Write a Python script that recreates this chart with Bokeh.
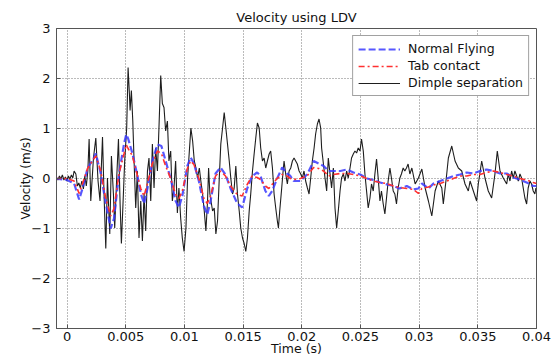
import numpy as np
from bokeh.plotting import figure
from bokeh.models import Legend, LegendItem, FixedTicker, Range1d
from bokeh.embed import file_html
from bokeh.resources import INLINE

# ---------------- data (time in ms, velocity in m/s) ----------------
smooth_time_ms = [-1.0, 0.0, 0.6, 1.03, 1.32, 1.74, 2.3, 2.45, 2.87, 3.3,
                  3.72, 4.0, 4.43, 4.86, 5.04, 5.2, 5.57, 6.0, 6.28, 6.56,
                  6.85, 7.27, 7.7, 8.04, 8.4, 8.83, 9.25, 9.53, 9.82, 10.25,
                  10.53, 10.81, 11.23, 11.66, 11.95, 12.23, 12.65, 13.08, 13.5, 13.93,
                  14.5, 14.92, 15.35, 15.77, 16.2, 16.48, 16.9, 17.19, 17.47, 17.9,
                  18.33, 18.75, 19.03, 19.31, 19.88, 20.45, 21.01, 21.44, 21.86, 22.29,
                  22.71, 23.28, 23.85, 24.41, 24.98, 25.55, 26.11, 26.68, 27.25, 27.81,
                  28.32, 28.95, 29.52, 29.94, 30.23, 30.79, 31.22, 31.79, 32.36, 32.92,
                  33.49, 34.06, 34.62, 35.19, 35.76, 36.32, 36.89, 37.46, 38.02, 38.59,
                  39.16, 39.72, 40.0]

normal_flying = [0.0, -0.03, -0.1, -0.42, -0.2, 0.2, 0.42, 0.5, 0.1, -0.5,
                 -1.0, -0.8, 0.1, 0.7, 0.88, 0.8, 0.5, 0.05, -0.3, -0.5,
                 -0.2, 0.35, 0.68, 0.65, 0.35, 0.0, -0.45, -0.58, -0.35, 0.25,
                 0.42, 0.3, -0.05, -0.55, -0.72, -0.45, 0.1, 0.22, 0.08, -0.2,
                 -0.5, -0.58, -0.2, 0.05, 0.12, 0.05, -0.25, -0.35, -0.25, 0.0,
                 0.22, 0.1, 0.05, -0.05, -0.05, 0.08, 0.35, 0.3, 0.25, 0.15,
                 0.15, 0.15, 0.18, 0.12, 0.08, 0.0, -0.03, -0.08, -0.12, -0.15,
                 -0.2, -0.15, -0.22, -0.2, -0.1, -0.2, -0.1, -0.05, 0.0, 0.05,
                 0.08, 0.12, 0.1, 0.15, 0.18, 0.15, 0.1, 0.1, 0.02, -0.02,
                 -0.08, -0.15, -0.15]

tab_contact = [0.0, 0.0, -0.05, -0.3, -0.1, 0.2, 0.4, 0.45, 0.15, -0.4,
               -0.75, -0.6, 0.1, 0.5, 0.68, 0.6, 0.45, 0.05, -0.2, -0.35,
               -0.1, 0.3, 0.55, 0.5, 0.25, 0.0, -0.32, -0.4, -0.25, 0.2,
               0.35, 0.28, 0.0, -0.4, -0.5, -0.35, 0.05, 0.15, 0.05, -0.15,
               -0.32, -0.35, -0.12, 0.05, 0.02, -0.02, -0.15, -0.2, -0.12, 0.0,
               0.08, 0.05, 0.0, -0.02, 0.0, 0.05, 0.22, 0.2, 0.15, 0.05,
               0.08, 0.1, 0.1, 0.08, 0.05, 0.0, -0.05, -0.08, -0.1, -0.15,
               -0.18, -0.2, -0.22, -0.3, -0.2, -0.17, -0.13, -0.1, -0.05, 0.0,
               0.05, 0.05, 0.08, 0.08, 0.12, 0.15, 0.12, 0.08, 0.05, 0.0,
               -0.03, -0.08, -0.1]

dimple_time_ms = [-0.90, -0.78, -0.65, -0.53, -0.40, -0.27, -0.14, -0.02, 0.11, 0.24,
                  0.37, 0.49, 0.60, 0.75, 0.88, 1.00, 1.13, 1.26, 1.39, 1.51,
                  1.64, 1.77, 1.88, 2.02, 2.25, 2.45, 2.64, 2.81, 3.02, 3.15,
                  3.30, 3.44, 3.64, 3.78, 3.95, 4.06, 4.23, 4.38, 4.52, 4.63,
                  4.80, 4.91, 5.08, 5.20, 5.31, 5.37, 5.48, 5.60, 5.71, 5.85,
                  5.99, 6.13, 6.28, 6.42, 6.56, 6.70, 6.85, 6.98, 7.13, 7.27,
                  7.41, 7.55, 7.70, 7.83, 7.98, 8.12, 8.26, 8.40, 8.55, 8.68,
                  8.83, 8.97, 9.11, 9.25, 9.40, 9.53, 9.68, 9.82, 9.97, 10.13,
                  10.27, 10.42, 10.55, 10.70, 10.84, 10.98, 11.12, 11.27, 11.40, 11.55,
                  11.69, 11.83, 11.97, 12.06, 12.17, 12.40, 12.54, 12.68, 12.82, 12.97,
                  13.10, 13.25, 13.39, 13.53, 13.67, 13.82, 13.95, 14.10, 14.24, 14.38,
                  14.52, 14.67, 14.80, 14.95, 15.09, 15.23, 15.37, 15.52, 15.65, 15.80,
                  15.94, 16.08, 16.22, 16.37, 16.50, 16.65, 16.79, 16.93, 17.07, 17.22,
                  17.35, 17.50, 17.64, 17.78, 17.92, 18.01, 18.12, 18.29, 18.41, 18.49,
                  18.63, 18.77, 18.92, 19.06, 19.20, 19.34, 19.48, 19.62, 19.77, 19.91,
                  20.05, 20.19, 20.33, 20.48, 20.62, 20.76, 20.90, 21.05, 21.18, 21.33,
                  21.47, 21.61, 21.69, 21.98, 22.12, 22.26, 22.54, 22.69, 22.83, 22.97,
                  23.11, 23.26, 23.39, 23.54, 23.68, 23.82, 23.96, 24.11, 24.24, 24.39,
                  24.53, 24.67, 24.81, 24.96, 25.09, 25.24, 25.38, 25.52, 25.66, 25.81,
                  25.94, 26.09, 26.23, 26.37, 26.51, 26.66, 26.79, 26.94, 27.08, 27.22,
                  27.36, 27.51, 27.64, 27.79, 27.93, 28.07, 28.21, 28.36, 28.49, 28.64,
                  28.78, 28.92, 29.06, 29.21, 29.38, 29.66, 29.94, 30.23, 30.51, 30.79,
                  31.08, 31.36, 31.64, 31.93, 32.06, 32.35, 32.49, 32.78, 33.06, 33.34,
                  33.63, 33.91, 34.19, 34.34, 34.62, 34.90, 35.04, 35.33, 35.61, 35.89,
                  36.18, 36.46, 36.66, 36.89, 37.17, 37.46, 37.59, 37.74, 37.88, 38.02,
                  38.16, 38.31, 38.45, 38.59, 38.73, 38.87, 39.01, 39.16, 39.29, 39.44,
                  39.58, 39.72, 39.86, 39.95]

dimple_separation = [0.01, -0.03, 0.05, -0.01, 0.07, -0.03, 0.03, -0.05, 0.05, -0.01,
                     0.07, 0.01, 0.15, 0.09, -0.15, -0.09, -0.19, -0.05, -0.21, 0.05,
                     -0.15, 0.15, 0.79, -0.45, 0.41, 0.81, -0.05, -0.45, 0.83, -0.31,
                     -1.40, 0.01, -1.11, 0.45, -0.31, -0.99, 0.01, 0.79, -0.51, -1.30,
                     -0.31, 0.35, 1.01, 2.22, 1.70, 1.36, 1.76, 1.15, 0.35, -0.59,
                     0.15, -1.19, -0.45, -1.25, -0.31, -1.05, 0.15, 0.41, -0.45, 0.69,
                     -0.19, 0.61, 0.15, 1.01, 2.06, 1.50, 1.42, 0.95, 1.15, 0.35,
                     0.55, -0.45, -0.19, 0.35, -0.69, -0.19, -0.79, -1.19, -1.46, -0.99,
                     0.01, 0.55, 1.01, 0.75, 0.35, 0.21, 0.01, 0.21, -0.05, -0.31,
                     -0.65, -1.05, -0.45, 0.21, -0.31, -0.65, -0.59, -1.11, -0.85, 0.01,
                     0.69, 1.01, 1.32, 1.01, 0.69, 0.35, 0.01, -0.31, -0.19, 0.25,
                     -0.31, -0.65, -0.99, -1.19, -1.30, -1.46, -1.19, -0.65, -0.31, 0.15,
                     0.49, 0.81, 1.11, 1.01, 0.61, 0.35, 0.41, 0.21, 0.35, 0.49,
                     0.55, 0.21, -0.31, -0.59, -0.85, -0.99, -0.65, -0.19, 0.15, 0.35,
                     0.09, -0.11, 0.15, 0.21, 0.35, 0.41, 0.35, 0.29, 0.15, 0.09,
                     0.01, 0.15, -0.05, -0.19, -0.31, 0.01, 0.35, 0.61, 0.89, 1.09,
                     1.19, 1.01, 0.61, 0.01, -0.25, 0.41, -0.19, 0.21, -0.59, -0.99,
                     -0.65, -0.25, 0.01, 0.09, -0.05, 0.15, 0.01, 0.21, 0.41, 0.49,
                     0.55, 0.51, 0.61, 0.55, 0.79, 0.55, 0.09, -0.25, -0.59, -0.39,
                     -0.11, -0.25, 0.09, 0.39, 0.01, -0.45, -0.25, -0.51, -0.71, -0.39,
                     -0.05, 0.21, 0.01, -0.25, -0.31, -0.51, -0.19, 0.01, 0.09, 0.21,
                     0.15, 0.21, 0.29, 0.09, 0.21, -0.11, 0.01, 0.19, -0.19, -0.45,
                     -0.75, -0.25, -0.05, -0.19, -0.51, 0.09, 0.41, 0.65, 0.35, 0.21,
                     0.15, -0.11, -0.25, -0.05, -0.25, -0.45, -0.11, 0.35, 0.01, -0.25,
                     -0.39, 0.09, 0.55, 0.15, 0.01, -0.11, 0.09, -0.05, 0.15, 0.01,
                     0.15, 0.05, -0.05, 0.09, 0.01, -0.19, -0.39, -0.51, -0.19, -0.05,
                     -0.11, -0.25, -0.31, -0.19]

x_ticks = [0, 0.005, 0.01, 0.015, 0.02, 0.025, 0.03, 0.035, 0.04]
x_tick_labels = ["0", "0.005", "0.01", "0.015", "0.02", "0.025", "0.03", "0.035", "0.04"]
y_ticks = [-3, -2, -1, 0, 1, 2, 3]

# ---------------- figure ----------------
FONT = "DejaVu Sans"
p = figure(width=555, height=358, output_backend="svg", toolbar_location=None,
           x_range=Range1d(-0.0009, 0.04), y_range=Range1d(-3, 3),
           min_border_left=56, min_border_right=19, min_border_top=28,
           min_border_bottom=30)
p.background_fill_color = "white"
p.border_fill_color = "white"
p.outline_line_color = "#555555"
p.outline_line_width = 1

p.title.text = "Velocity using LDV"
p.title.align = "center"
p.title.text_font = FONT
p.title.text_font_size = "13px"
p.title.text_font_style = "normal"
p.title.text_color = "#111111"
p.title.standoff = 8

t_s = np.array(smooth_time_ms) / 1000.0
td_s = np.array(dimple_time_ms) / 1000.0

r_dimple = p.line(td_s, dimple_separation, line_color="#1e1e1e", line_width=1.1)
r_normal = p.line(t_s, normal_flying, line_color="#3a3aff", line_width=2.2,
                  line_dash="7 3", line_alpha=0.85)
r_tab = p.line(t_s, tab_contact, line_color="#ff3030", line_width=1.6,
               line_dash="6 3 2 3")

# axes
p.xaxis.ticker = FixedTicker(ticks=x_ticks)
p.xaxis.major_label_overrides = {t: l for t, l in zip(x_ticks, x_tick_labels)}
p.yaxis.ticker = FixedTicker(ticks=y_ticks)
p.xaxis.axis_label = "Time (s)"
p.yaxis.axis_label = "Velocity (m/s)"
for ax in (p.xaxis, p.yaxis):
    ax.axis_line_color = "#555555"
    ax.major_tick_line_color = "#555555"
    ax.major_tick_in = 4
    ax.major_tick_out = 0
    ax.minor_tick_line_color = None
    ax.major_label_text_font = FONT
    ax.major_label_text_font_size = "13px"
    ax.major_label_text_color = "#111111"
    ax.axis_label_text_font = FONT
    ax.axis_label_text_font_size = "12.5px"
    ax.axis_label_text_font_style = "normal"
    ax.axis_label_text_color = "#111111"
p.xaxis.major_label_standoff = 3
p.xaxis.axis_label_standoff = -3
p.yaxis.major_label_standoff = 6
p.yaxis.axis_label_standoff = -5
p.yaxis.axis_label_text_font_size = "12px"

p.xgrid.ticker = FixedTicker(ticks=x_ticks)
p.ygrid.ticker = FixedTicker(ticks=y_ticks)
for g in (p.xgrid, p.ygrid):
    g.grid_line_color = "#777777"
    g.grid_line_dash = "1 2"
    g.grid_line_width = 1

legend = Legend(items=[LegendItem(label="Normal Flying", renderers=[r_normal]),
                       LegendItem(label="Tab contact", renderers=[r_tab]),
                       LegendItem(label="Dimple separation", renderers=[r_dimple])],
                location="top_right")
legend.border_line_color = "#444444"
legend.border_line_width = 1
legend.background_fill_color = "white"
legend.background_fill_alpha = 1
legend.label_text_font = FONT
legend.label_text_font_size = "12.5px"
legend.label_text_color = "#111111"
legend.glyph_width = 42
legend.glyph_height = 14
legend.label_height = 14
legend.label_standoff = 8
legend.spacing = 2
legend.padding = 5
legend.margin = 7
p.add_layout(legend)

open("out.html", "w").write(file_html(p, INLINE))
